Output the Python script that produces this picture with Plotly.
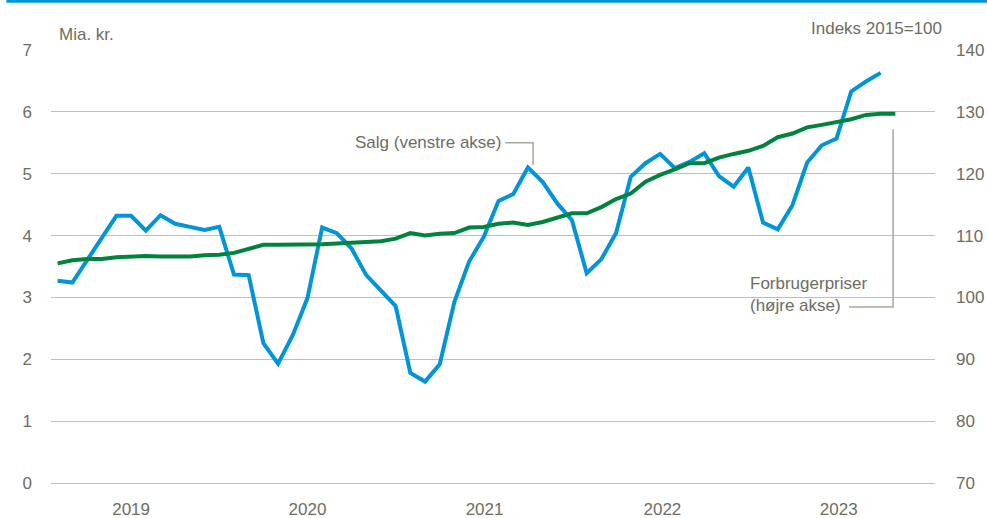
import plotly.graph_objects as go

# Monthly data, Jan 2019 .. (index 0 = Jan 2019)
sales = [3.27, 3.24, 3.60, 3.96, 4.32, 4.32, 4.08, 4.33, 4.19, 4.14, 4.09, 4.14,
         3.37, 3.36, 2.26, 1.93, 2.39, 2.99, 4.13, 4.04, 3.79, 3.36, 3.12, 2.86,
         1.78, 1.64, 1.92, 2.93, 3.58, 3.98, 4.56, 4.67, 5.10, 4.87, 4.52, 4.25,
         3.39, 3.62, 4.04, 4.95, 5.17, 5.32, 5.09, 5.19, 5.33, 4.96, 4.79, 5.10,
         4.21, 4.10, 4.49, 5.18, 5.46, 5.57, 6.33, 6.49, 6.63]
cpi = [105.5, 106.0, 106.2, 106.2, 106.5, 106.6, 106.7, 106.6, 106.6, 106.6, 106.8, 106.9,
       107.2, 107.9, 108.5, 108.5, 108.5, 108.6, 108.6, 108.7, 108.8, 108.9, 109.1, 109.5,
       110.4, 110.0, 110.3, 110.4, 111.3, 111.4, 111.9, 112.1, 111.7, 112.2, 112.9, 113.6,
       113.6, 114.6, 115.9, 116.8, 118.7, 119.8, 120.7, 121.7, 121.7, 122.6, 123.2, 123.7,
       124.5, 125.9, 126.5, 127.5, 127.9, 128.4, 128.8, 129.5, 129.7, 129.7]
years = ["2019", "2020", "2021", "2022", "2023"]
year_pos = [5.0, 17.0, 29.05, 41.15, 53.15]
left_ticks = [0, 1, 2, 3, 4, 5, 6, 7]
right_ticks = [70, 80, 90, 100, 110, 120, 130, 140]

BLUE = "#0094D8"
GREEN = "#00843D"
TXT = "#6E6D62"
GRID = "#C0BEB5"
LEAD = "#A9A79A"
FONT = "Liberation Sans, Arial"
FS = 17

fig = go.Figure()
fig.add_trace(go.Scatter(x=list(range(len(sales))), y=sales, mode="lines",
                         line=dict(color=BLUE, width=4), yaxis="y", showlegend=False))
fig.add_trace(go.Scatter(x=list(range(len(cpi))), y=cpi, mode="lines",
                         line=dict(color=GREEN, width=4), yaxis="y2", showlegend=False))

fig.update_layout(
    width=987, height=518,
    margin=dict(l=51, r=52, t=50, b=35),
    plot_bgcolor="white", paper_bgcolor="white",
    font=dict(family=FONT, size=FS, color=TXT),
    xaxis=dict(range=[-0.45, 59.7], tickmode="array", tickvals=year_pos, ticktext=years,
               showgrid=False, zeroline=False, showline=False, ticks="", automargin=False,
               ticklabelstandoff=14, tickfont=dict(size=FS, color=TXT)),
    yaxis=dict(range=[0, 7], tickmode="array", tickvals=left_ticks, showgrid=True,
               gridcolor=GRID, gridwidth=1.3, zeroline=True, zerolinecolor=GRID, zerolinewidth=1.3,
               ticks="", automargin=False, ticklabelstandoff=18, tickfont=dict(size=FS, color=TXT)),
    yaxis2=dict(range=[70, 140], overlaying="y", side="right", tickmode="array",
                tickvals=right_ticks, showgrid=False, zeroline=False, ticks="", automargin=False,
                ticklabelstandoff=20, tickfont=dict(size=FS, color=TXT)),
)

# header line
fig.add_shape(type="line", xref="paper", yref="paper", x0=-0.0505, x1=1.06,
              y0=1.1125, y1=1.1125, line=dict(color=BLUE, width=3))

fig.add_annotation(x=(57 - 50.7) / 884.3, y=(483 - 35) / 433, xref="paper", yref="paper",
                   text="Mia. kr.", showarrow=False,
                   xanchor="left", yanchor="middle", font=dict(size=FS, color=TXT))
fig.add_annotation(x=(944 - 50.7) / 884.3, y=(483 - 28) / 433, xref="paper", yref="paper",
                   text="Indeks 2015=100", showarrow=False,
                   xanchor="right", yanchor="middle", font=dict(size=FS, color=TXT))
fig.add_annotation(x=30.3, y=5.51, xref="x", yref="y", text="Salg (venstre akse)", showarrow=False,
                   xanchor="right", yanchor="middle", font=dict(size=FS, color=TXT))
fig.add_annotation(x=46.99, y=3.04, xref="x", yref="y", text="Forbrugerpriser<br>(højre akse)",
                   showarrow=False, xanchor="left", yanchor="middle", align="left",
                   font=dict(size=FS, color=TXT))

fig.add_shape(type="path", xref="x", yref="y",
              path="M 30.45 5.50 L 32.35 5.50 L 32.35 5.14",
              line=dict(color=LEAD, width=1.5))
fig.add_shape(type="path", xref="x", yref="y",
              path="M 53.85 2.845 L 56.85 2.845 L 56.85 5.72",
              line=dict(color=LEAD, width=1.5))

fig.write_html("out.html", config={"displayModeBar": False},
               post_script="document.body.style.margin='0';")
